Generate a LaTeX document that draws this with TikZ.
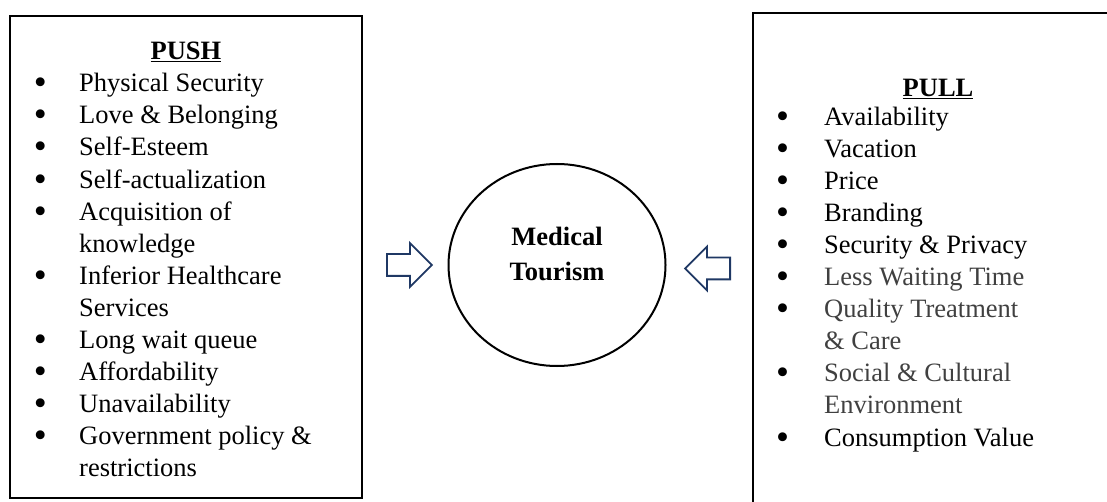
\documentclass[tikz,border=0pt]{standalone}
\usepackage{fontspec}
\setmainfont{Liberation Serif}
\usetikzlibrary{shapes.geometric,shapes.arrows}
\definecolor{myarrowblue}{RGB}{31,56,100}
\definecolor{mygraytext}{RGB}{64,64,64}
\newlength{\widthbullet}
\newcommand{\bigbullet}{\raisebox{-3pt}[0pt][0pt]{\fontsize{37}{0}\selectfont\textbullet}}
\newcommand{\itm}[1]{\makebox[\widthbullet][l]{\bigbullet}#1}
\newcommand{\cnt}[1]{\hspace*{\widthbullet}#1}
\newcommand{\gry}[1]{{\color{mygraytext}#1}}
\tikzset{
    common/.style={inner sep=0pt, font=\fontsize{26.5}{32.1}\selectfont},
    factorbox/.style={draw, rectangle, line width=2pt},
    heading/.style={common, anchor=base, font=\fontsize{26.5}{32.1}\selectfont\bfseries},
    % base anchor of a list sits on its last line
    factorlist/.style={common, anchor=base west, align=left},
    pushlist/.style={factorlist, execute at begin node={\setlength{\widthbullet}{45.4pt}}},
    pulllist/.style={factorlist, execute at begin node={\setlength{\widthbullet}{48pt}}},
    hub/.style={draw, ellipse, line width=2pt, minimum width=217pt, minimum height=202pt, inner sep=0pt},
    hubtext/.style={common, align=center, font=\fontsize{26.5}{34.3}\selectfont\bfseries},
    flow/.style={single arrow, draw=myarrowblue, fill=white, line width=1.8pt,
        minimum height=45pt, inner xsep=0pt, inner ysep=10pt,
        single arrow head extend=11pt, single arrow tip angle=90}
}
\begin{document}
\begin{tikzpicture}[x=1pt, y=1pt]
    \path[use as bounding box] (0,0) rectangle (1107,-502);
    \clip (0,0) rectangle (1107,-502);

    % push side
    \node[factorbox, minimum width=352pt, minimum height=482pt] (push-box) at (186,-257) {};
    \node[heading] (push-head) at (186,-59.3) {\underline{PUSH}};
    \node[pushlist] (push-list) at (33.6,-476.9) {%
        \itm{Physical Security}\\
        \itm{Love \& Belonging}\\
        \itm{Self-Esteem}\\
        \itm{Self-actualization}\\
        \itm{Acquisition of}\\
        \cnt{knowledge}\\
        \itm{Inferior Healthcare}\\
        \cnt{Services}\\
        \itm{Long wait queue}\\
        \itm{Affordability}\\
        \itm{Unavailability}\\
        \itm{Government policy \&}\\
        \cnt{restrictions}};

    % centre
    \node[hub] (hub) at (557,-265) {};
    \node[hubtext] (hub-text) at (557,-254) {Medical\\Tourism};
    \node[flow, anchor=tail] (push-arrow) at (386,-265) {};
    \node[flow, shape border rotate=180, anchor=tail] (pull-arrow) at (731,-268.5) {};

    % pull side
    \node[factorbox, minimum width=362pt, minimum height=498.5pt] (pull-box) at (934,-262.75) {};
    \node[heading] (pull-head) at (938,-97) {\underline{PULL}};
    \node[pulllist] (pull-list) at (776,-446) {%
        \itm{Availability}\\
        \itm{Vacation}\\
        \itm{Price}\\
        \itm{Branding}\\
        \itm{Security \& Privacy}\\
        \itm{\gry{Less Waiting Time}}\\
        \itm{\gry{Quality Treatment}}\\
        \cnt{\gry{\& Care}}\\
        \itm{\gry{Social \& Cultural}}\\
        \cnt{\gry{Environment}}\\
        \itm{Consumption Value}};
\end{tikzpicture}
\end{document}
